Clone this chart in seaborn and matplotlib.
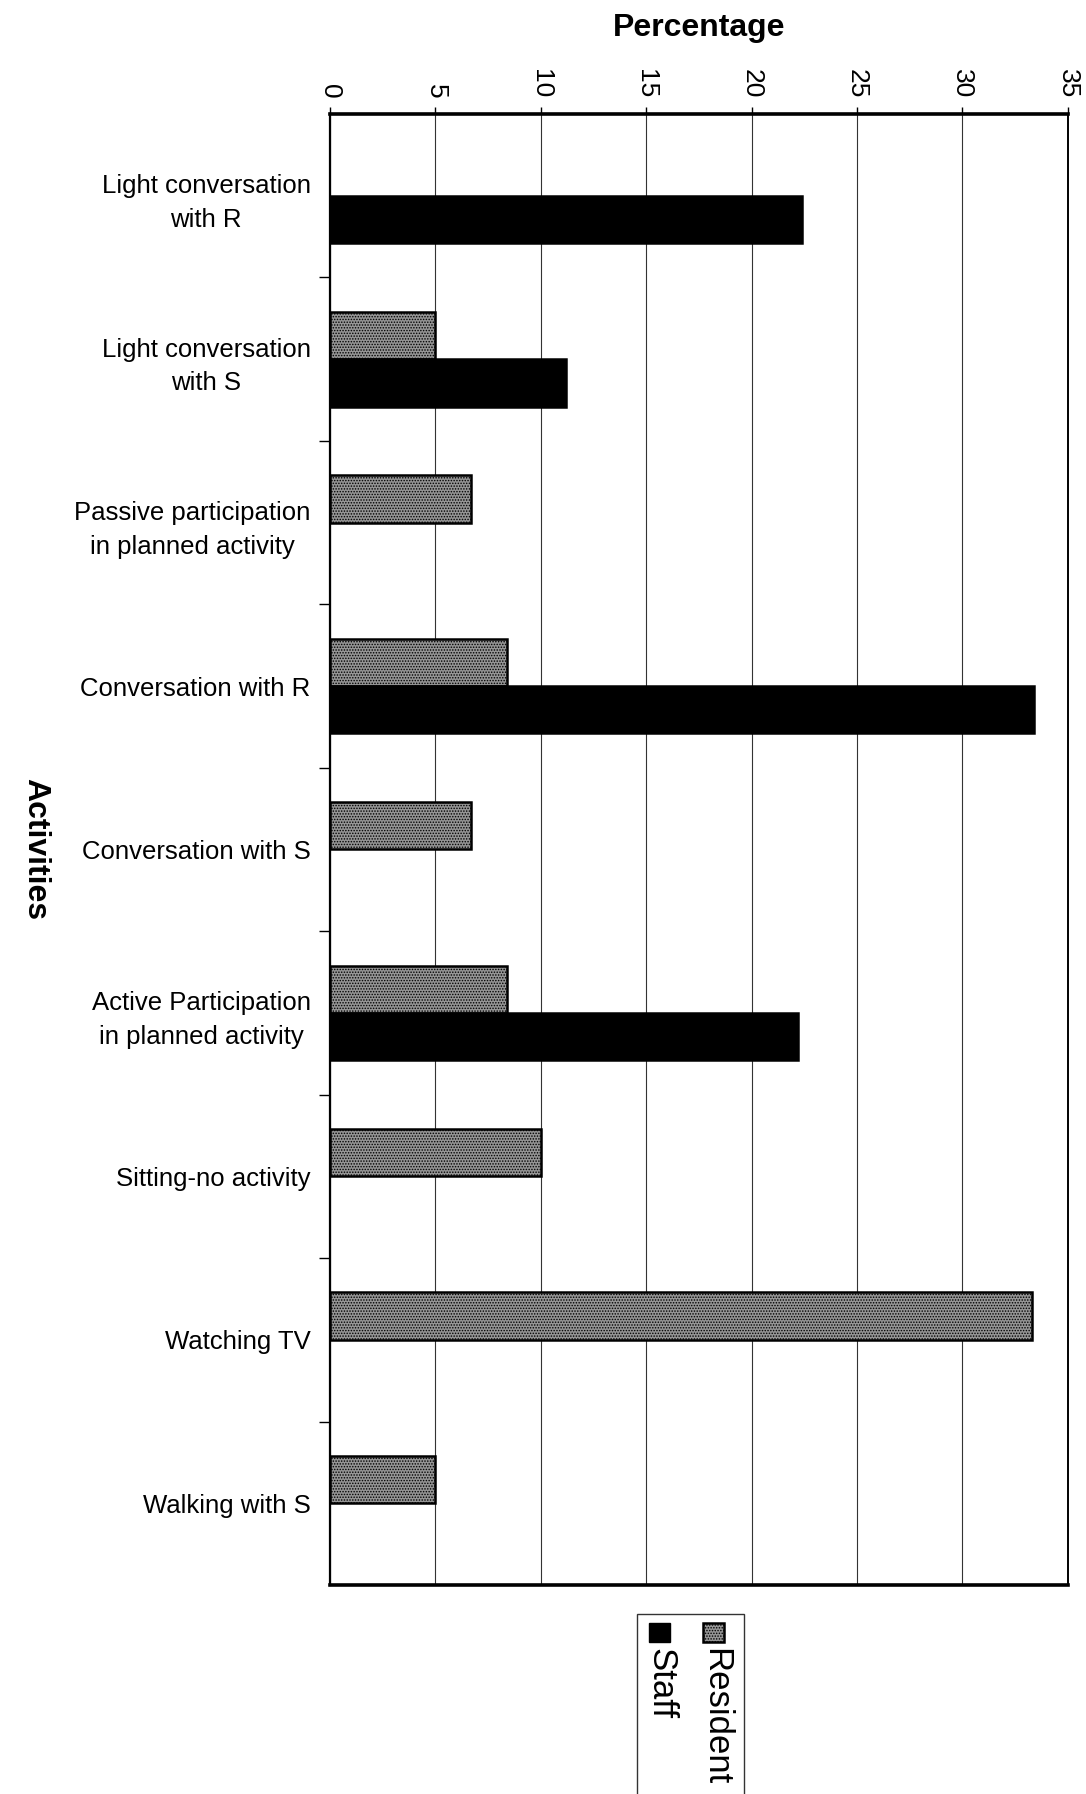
import numpy as np
import pandas as pd
import matplotlib
matplotlib.use("Agg")
import matplotlib.pyplot as plt
from matplotlib.patches import Rectangle
import seaborn as sns

# Activity categories (top to bottom) and percentages per group
activities = [
    "Light conversation\nwith R",
    "Light conversation\nwith S",
    "Passive participation\nin planned activity",
    "Conversation with R",
    "Conversation with S",
    "Active Participation\nin planned activity",
    "Sitting-no activity",
    "Watching TV",
    "Walking with S",
]
resident = [np.nan, 5.0, 6.7, 8.4, 6.7, 8.4, 10.0, 33.3, 5.0]
staff = [22.4, 11.2, np.nan, 33.4, np.nan, 22.2, np.nan, np.nan, np.nan]
groups = ["Resident", "Staff"]
x_ticks = [0, 5, 10, 15, 20, 25, 30, 35]

df = pd.concat([
    pd.DataFrame({"Activity": activities, "Percentage": resident, "Group": "Resident"}),
    pd.DataFrame({"Activity": activities, "Percentage": staff, "Group": "Staff"}),
]).dropna()

sns.set_theme(style="white")
plt.rcParams["font.family"] = ["Liberation Sans", "DejaVu Sans"]
plt.rcParams["text.color"] = "black"
plt.rcParams["axes.labelcolor"] = "black"
plt.rcParams["xtick.color"] = "black"
plt.rcParams["ytick.color"] = "black"
plt.rcParams["hatch.linewidth"] = 0.7
plt.rcParams["hatch.color"] = "#222222"

GRAY = "#959595"
BLACK = "#000000"

fig = plt.figure(figsize=(10.86, 17.94), dpi=100)
ax = fig.add_axes([0.304, 0.1165, 0.679, 0.820])

sns.barplot(data=df, y="Activity", x="Percentage", hue="Group",
            order=activities, hue_order=groups, orient="h",
            palette={"Resident": GRAY, "Staff": BLACK},
            width=0.58, edgecolor="black", linewidth=1.8,
            legend=False, ax=ax)

# stippled look for resident bars
for bar in ax.containers[0]:
    bar.set_hatch("......")

ax.set_xlim(0, 35)
ax.set_ylim(len(activities) - 0.5, -0.5)

# value axis on top, labels turned
ax.xaxis.tick_top()
ax.xaxis.set_label_position("top")
ax.set_xticks(x_ticks)
ax.set_xticklabels([str(t) for t in x_ticks], rotation=270, fontsize=19)
ax.tick_params(axis="x", which="major", direction="out", length=5, width=1,
               pad=6, top=True, bottom=False)
ax.set_xlabel("Percentage", fontsize=23, fontweight="bold", labelpad=24)

# category ticks at group boundaries, labels at centers
ax.set_yticks(np.arange(len(activities) - 1) + 0.5)
ax.set_yticklabels([])
ax.set_yticks(np.arange(len(activities)), minor=True)
ax.set_yticklabels(activities, minor=True, fontsize=18.5,
                   multialignment="center", linespacing=1.5)
ax.tick_params(axis="y", which="major", direction="out", length=8, width=1,
               left=True)
ax.tick_params(axis="y", which="minor", length=0, pad=14)
ax.set_ylabel("Activities", fontsize=23, fontweight="bold", rotation=270)
ax.yaxis.set_label_coords(-0.42, 0.5)

ax.xaxis.grid(True, color="#333333", linewidth=0.8)
ax.yaxis.grid(False)
ax.set_axisbelow(True)

for side, lw in {"top": 2.6, "bottom": 2.6, "left": 1.6, "right": 1.4}.items():
    ax.spines[side].set_visible(True)
    ax.spines[side].set_color("black")
    ax.spines[side].set_linewidth(lw)

# legend drawn in the turned orientation of the page
fig.patches.append(Rectangle((0.5866, -0.01), 0.0985, 0.1103, transform=fig.transFigure,
                             fill=False, edgecolor="#333333", linewidth=1.0))
fig.patches.append(Rectangle((0.6473, 0.0847), 0.0193, 0.0106, transform=fig.transFigure,
                             facecolor=GRAY, edgecolor="black", linewidth=1.8, hatch="......"))
fig.patches.append(Rectangle((0.5976, 0.0847), 0.0193, 0.0106, transform=fig.transFigure,
                             facecolor=BLACK, edgecolor="black", linewidth=1.0))
fig.text(0.659, 0.0814, groups[0], rotation=270, ha="center", va="top", fontsize=25)
fig.text(0.6087, 0.0814, groups[1], rotation=270, ha="center", va="top", fontsize=25)

fig.savefig("out.png", dpi=100, facecolor="white")
